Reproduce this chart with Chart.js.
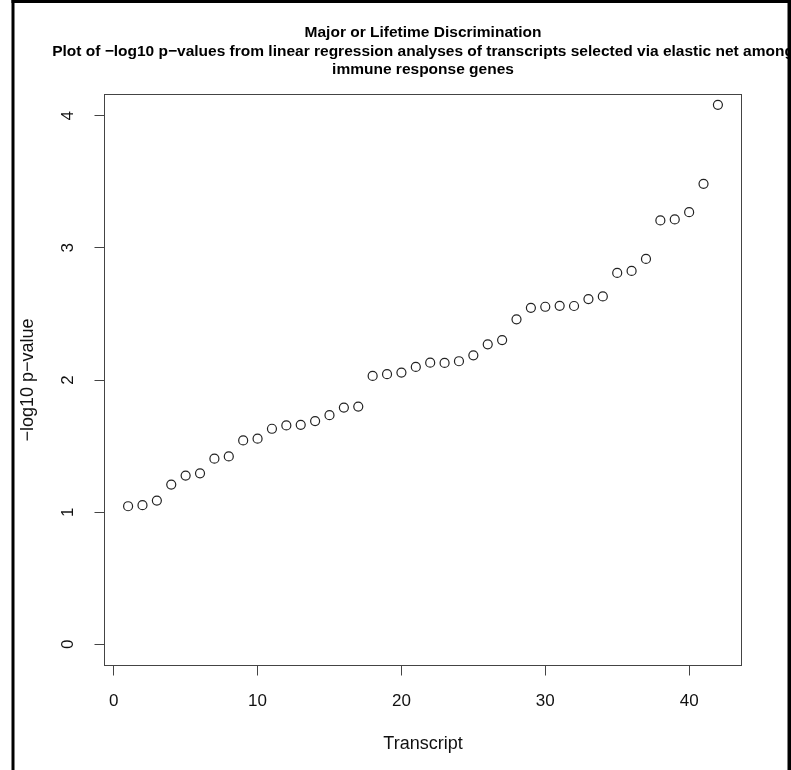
<!DOCTYPE html>
<html>
<head>
<meta charset="utf-8">
<title>Major or Lifetime Discrimination</title>
<script src="https://cdn.jsdelivr.net/npm/chart.js@4/dist/chart.umd.min.js"></script>
<style>
  html, body { margin: 0; padding: 0; background: #ffffff; }
  #wrap { width: 791px; height: 770px; }
</style>
</head>
<body>
<div id="wrap"><canvas id="plot" width="791" height="770"></canvas></div>
<script>
// Transcript index (x) and -log10 p-value (y) for each selected transcript
const transcriptIndex = [1, 2, 3, 4, 5, 6, 7, 8, 9, 10, 11, 12, 13, 14, 15, 16, 17, 18, 19, 20, 21,
  22, 23, 24, 25, 26, 27, 28, 29, 30, 31, 32, 33, 34, 35, 36, 37, 38, 39, 40, 41, 42];
const negLog10P = [1.045, 1.053, 1.088, 1.209, 1.277, 1.294, 1.405, 1.422, 1.543, 1.556,
  1.631, 1.656, 1.661, 1.689, 1.734, 1.791, 1.799, 2.031, 2.044, 2.056,
  2.099, 2.131, 2.129, 2.142, 2.187, 2.270, 2.302, 2.459, 2.546, 2.554,
  2.561, 2.560, 2.612, 2.632, 2.810, 2.825, 2.916, 3.207, 3.215, 3.270,
  3.484, 4.082];

// Axis tick values
const xTickValues = [0, 10, 20, 30, 40];
const yTickValues = [0, 1, 2, 3, 4];

// Text
const titleLines = [
  'Major or Lifetime Discrimination',
  'Plot of \u2212log10 p\u2212values from linear regression analyses of transcripts selected via elastic net among',
  'immune response genes'
];
const xAxisTitle = 'Transcript';
const yAxisTitle = '\u2212log10 p\u2212value';

const FONT = '"Liberation Sans", Arial, Helvetica, sans-serif';

// Base-graphics look: box around the plot region, outward ticks,
// rotated y labels, centred main title and a frame around the figure.
const baseGraphics = {
  id: 'baseGraphics',
  beforeDatasetsDraw(chart) {
    const { ctx, chartArea: a } = chart;
    ctx.save();
    ctx.strokeStyle = '#444444';
    ctx.lineWidth = 1;
    ctx.strokeRect(a.left, a.top, a.right - a.left, a.bottom - a.top);
    ctx.restore();
  },
  afterDraw(chart) {
    const { ctx, chartArea: a, scales } = chart;
    const xs = scales.x, ys = scales.y;
    const cx = (a.left + a.right) / 2;
    ctx.save();
    ctx.fillStyle = '#111111';

    // x tick labels
    ctx.font = '17px ' + FONT;
    ctx.textAlign = 'center';
    ctx.textBaseline = 'alphabetic';
    xs.ticks.forEach(t => ctx.fillText(String(t.value), xs.getPixelForValue(t.value), a.bottom + 40));

    // y tick labels, parallel to the axis
    ys.ticks.forEach(t => {
      ctx.save();
      ctx.translate(a.left - 32, ys.getPixelForValue(t.value));
      ctx.rotate(-Math.PI / 2);
      ctx.fillText(String(t.value), 0, 0);
      ctx.restore();
    });

    // axis titles
    ctx.font = '18px ' + FONT;
    ctx.fillText(xAxisTitle, cx, a.bottom + 83.5);
    ctx.save();
    ctx.translate(a.left - 71.5, (a.top + a.bottom) / 2);
    ctx.rotate(-Math.PI / 2);
    ctx.fillText(yAxisTitle, 0, 0);
    ctx.restore();

    // main title
    ctx.fillStyle = '#000000';
    ctx.font = 'bold 15.5px ' + FONT;
    const baselines = [a.top - 57.2, a.top - 38.7, a.top - 20.2];
    titleLines.forEach((line, i) => ctx.fillText(line, cx, baselines[i]));

    // figure frame
    ctx.fillStyle = '#000000';
    ctx.fillRect(11.5, 0, 3, chart.height);
    ctx.fillRect(11.5, 0, chart.width - 11.5, 3);
    ctx.fillRect(chart.width - 3.5, 0, 3.5, chart.height);
    ctx.restore();
  }
};

new Chart(document.getElementById('plot'), {
  type: 'scatter',
  data: {
    datasets: [{
      label: yAxisTitle,
      data: transcriptIndex.map((t, i) => ({ x: t, y: negLog10P[i] })),
      pointStyle: 'circle',
      pointRadius: 4.5,
      pointHoverRadius: 4.5,
      pointBorderWidth: 1.2,
      borderColor: '#222222',
      backgroundColor: 'rgba(0,0,0,0)',
      showLine: false,
      clip: false
    }]
  },
  options: {
    responsive: false,
    animation: false,
    devicePixelRatio: 1,
    events: [],
    layout: { padding: { left: 104.5, right: 49.5, top: 94.5, bottom: 104.5 } },
    plugins: {
      legend: { display: false },
      title: { display: false },
      tooltip: { enabled: false }
    },
    scales: {
      x: {
        type: 'linear',
        position: 'bottom',
        min: -0.64,
        max: 43.64,
        afterBuildTicks: s => { s.ticks = xTickValues.map(v => ({ value: v })); },
        afterFit: s => { s.height = 0; },
        ticks: { display: false },
        border: { display: false },
        grid: { drawOnChartArea: false, drawTicks: true, tickLength: 10, color: '#444444', lineWidth: 1 }
      },
      y: {
        type: 'linear',
        position: 'left',
        min: -0.16,
        max: 4.16,
        afterBuildTicks: s => { s.ticks = yTickValues.map(v => ({ value: v })); },
        afterFit: s => { s.width = 0; },
        ticks: { display: false },
        border: { display: false },
        grid: { drawOnChartArea: false, drawTicks: true, tickLength: 10, color: '#444444', lineWidth: 1 }
      }
    }
  },
  plugins: [baseGraphics]
});
</script>
</body>
</html>
